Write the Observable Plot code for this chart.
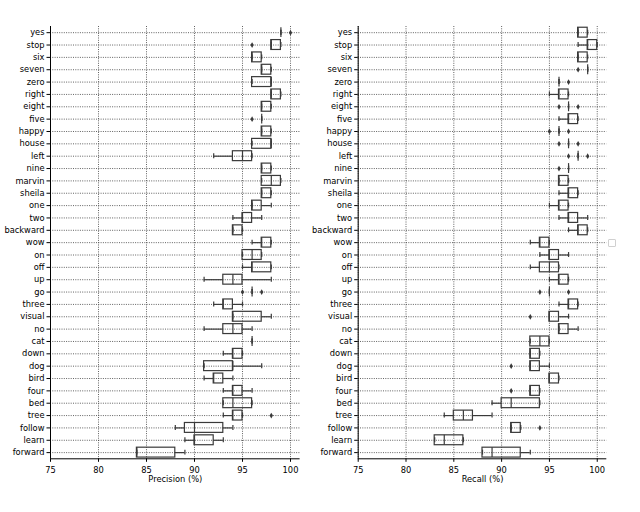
<!DOCTYPE html>
<html>
<head>
<meta charset="utf-8">
<script src="https://cdn.jsdelivr.net/npm/d3@7"></script>
<script src="https://cdn.jsdelivr.net/npm/@observablehq/plot@0.6"></script>
<style>
  html, body { margin: 0; padding: 0; background: #fff; }
  #wrap { position: relative; width: 640px; height: 512px; overflow: hidden; background: #fff; }
  #left, #right { position: absolute; top: 0; }
  #left { left: 0; }
  #right { left: 270px; }
  #sq { position: absolute; left: 608px; top: 239px; width: 6px; height: 6px; border: 1px solid #d0d0d0; border-radius: 1px; }
</style>
</head>
<body>
<div id="wrap"><div id="left"></div><div id="right"></div><div id="sq"></div></div>
<script>
const cats = ["yes","stop","six","seven","zero","right","eight","five","happy","house","left","nine","marvin","sheila","one","two","backward","wow","on","off","up","go","three","visual","no","cat","down","dog","bird","four","bed","tree","follow","learn","forward"];
const xTicks = [75, 80, 85, 90, 95, 100];

// Precision (%) box statistics per keyword
const precLo  = [99,98,96,97,96,98,97,97,97,96,92,97,97,97,96,94,94,96,95,95,91,96,92,94,91,96,93,91,91,93,93,93,88,89,84];
const precQ1  = [99,98,96,97,96,98,97,97,97,96,94,97,97,97,96,95,94,97,95,96,93,96,93,94,93,96,94,91,92,94,93,94,89,90,84];
const precMed = [99,98,96,97,98,98,97,97,97,98,95,97,98,97,96,95,94,97,96,96,94,96,93,94,94,96,94,94,92,94,94,94,90,90,84];
const precQ3  = [99,99,97,98,98,99,98,97,98,98,96,98,99,98,97,96,95,98,97,98,95,96,94,97,95,96,95,94,93,95,96,95,93,92,88];
const precHi  = [99,99,97,98,98,99,98,97,98,98,96,98,99,98,98,97,95,98,97,98,98,96,95,98,96,96,95,97,94,96,96,95,94,93,89];
const precFliers = [["yes",100],["stop",96],["five",96],["go",95],["go",97],["tree",98]];

// Recall (%) box statistics per keyword
const recLo  = [98,98,98,99,96,95,97,96,96,97,98,97,96,96,95,96,97,93,94,93,95,95,96,95,96,93,93,93,95,93,89,84,91,83,88];
const recQ1  = [98,99,98,99,96,96,97,97,96,97,98,97,96,97,96,97,98,94,95,94,96,95,97,95,96,93,93,93,95,93,90,85,91,83,88];
const recMed = [98,99,98,99,96,96,97,97,96,97,98,97,96,97,96,97,98,94,95,95,96,95,97,95,96,94,93,93,95,93,91,86,91,84,89];
const recQ3  = [99,100,99,99,96,97,97,98,96,97,98,97,97,98,97,98,99,95,96,96,97,95,98,96,97,95,94,94,96,94,94,87,92,86,92];
const recHi  = [99,100,99,99,96,97,97,98,96,97,98,97,97,98,97,99,99,95,97,96,97,95,98,97,98,95,94,95,96,94,94,89,92,86,93];
const recFliers = [["seven",98],["zero",97],["eight",96],["eight",98],["happy",95],["happy",97],["house",96],["house",98],["left",97],["left",99],["nine",96],["go",94],["go",97],["visual",93],["dog",91],["four",91],["follow",94]];

const thinDiamond = {
  draw(ctx, size) {
    const s = Math.sqrt(size / Math.PI);
    ctx.moveTo(0, -s * 1.2);
    ctx.lineTo(s * 0.7, 0);
    ctx.lineTo(0, s * 1.2);
    ctx.lineTo(-s * 0.7, 0);
    ctx.closePath();
  }
};

function panel({lo, q1, med, q3, hi, fliers, label, width, marginLeft, marginRight}) {
  const rows = cats.map((c, i) => ({cat: c, lo: lo[i], q1: q1[i], med: med[i], q3: q3[i], hi: hi[i]}));
  const fl = fliers.map(([cat, v]) => ({cat, v}));
  const H = 512, mt = 26, mb = 53.7;
  const bw = (H - mt - mb) / cats.length;
  const boxInset = bw * 0.1;
  const capInset = bw * 0.3;
  const ink = "#3a3a3a";
  return Plot.plot({
    width, height: H, marginLeft, marginRight, marginTop: mt, marginBottom: mb,
    style: {fontFamily: "DejaVu Sans", fontSize: "8.3px", background: "transparent", overflow: "visible", color: "#000"},
    x: {domain: [75, 101]},
    y: {type: "band", domain: cats, padding: 0, round: false},
    marks: [
      Plot.gridX(xTicks, {stroke: "#3a3a3a", strokeOpacity: 1, strokeWidth: 0.8, strokeDasharray: "1,1.3"}),
      Plot.gridY(cats, {stroke: "#3a3a3a", strokeOpacity: 1, strokeWidth: 0.8, strokeDasharray: "1,1.3"}),
      Plot.ruleY(rows, {y: "cat", x1: "lo", x2: "q1", stroke: ink, strokeWidth: 1.2}),
      Plot.ruleY(rows, {y: "cat", x1: "q3", x2: "hi", stroke: ink, strokeWidth: 1.2}),
      Plot.tickX(rows, {x: "lo", y: "cat", inset: capInset, stroke: ink, strokeWidth: 1.2}),
      Plot.tickX(rows, {x: "hi", y: "cat", inset: capInset, stroke: ink, strokeWidth: 1.2}),
      Plot.barX(rows, {y: "cat", x1: "q1", x2: "q3", inset: boxInset, insetLeft: 0, insetRight: 0, fill: "none", stroke: ink, strokeWidth: 1.2}),
      Plot.tickX(rows, {x: "med", y: "cat", inset: boxInset, stroke: ink, strokeWidth: 1.2}),
      Plot.dot(fl, {x: "v", y: "cat", symbol: thinDiamond, r: 2.4, fill: ink, stroke: "none"}),
      Plot.ruleX([75], {stroke: "#000", strokeWidth: 1}),
      Plot.ruleY(["forward"], {y: d => d, dy: bw / 2, stroke: "#000", strokeWidth: 1}),
      Plot.axisY({tickSize: 3.5, tickPadding: 2.5, label: null, fontSize: 8.3}),
      Plot.axisX({ticks: xTicks, tickSize: 3.5, tickPadding: 5, fontSize: 8.3, label, labelAnchor: "center", labelArrow: "none", labelOffset: 23})
    ]
  });
}

document.getElementById("left").append(panel({
  lo: precLo, q1: precQ1, med: precMed, q3: precQ3, hi: precHi, fliers: precFliers,
  label: "Precision (%)", width: 320, marginLeft: 50, marginRight: 20.4
}));
document.getElementById("right").append(panel({
  lo: recLo, q1: recQ1, med: recMed, q3: recQ3, hi: recHi, fliers: recFliers,
  label: "Recall (%)", width: 370, marginLeft: 87.7, marginRight: 33.7
}));
</script>
</body>
</html>
